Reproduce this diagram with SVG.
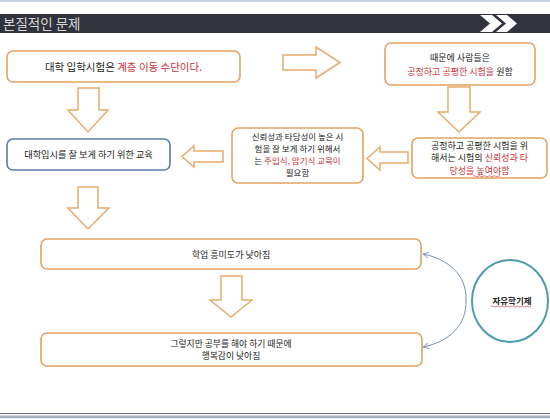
<svg xmlns="http://www.w3.org/2000/svg" width="550" height="419" viewBox="0 0 550 419">
<defs>
<style>
.t{font-family:"Noto Sans CJK KR","Noto Sans",sans-serif;fill:#222;text-anchor:middle}
.r{fill:#c8323a}
.box{fill:#fff;stroke:#e3a262;stroke-width:1.6}
.bbox{fill:#fff;stroke:#5d7ca6;stroke-width:1.6}
.arr{fill:#fff;stroke:#e8ac6c;stroke-width:1.5;stroke-linejoin:miter}
.sq{fill:none;stroke:#d04040;stroke-width:0.7}
.cv{fill:none;stroke:#7a8fb8;stroke-width:1}
</style>
<marker id="va" viewBox="0 0 10 10" refX="9" refY="5" markerWidth="7" markerHeight="7" orient="auto" markerUnits="userSpaceOnUse">
<path d="M1,1 L9,5 L1,9" fill="none" stroke="#7a8fb8" stroke-width="1.2"/>
</marker>
</defs>
<rect width="550" height="419" fill="#fff"/>
<rect x="0" y="0" width="550" height="2" fill="#c5d2e2"/>
<g id="header">
<rect x="0" y="14" width="550" height="19" fill="#30333c"/>
<polygon points="480,15 492,15 502,23.5 492,32 480,32 490,23.5" fill="#fff"/>
<polygon points="496,15 507,15 517,23.5 507,32 496,32 506,23.5" fill="#fff"/>
<text x="3" y="29" style="font-family:'Noto Sans CJK KR','Noto Sans',sans-serif;font-size:13.5px;fill:#d6d6d6">본질적인 문제</text>
</g>
<g id="node1">
<rect class="box" x="7" y="51" width="233" height="31" rx="6"/>
<text class="t" x="123.5" y="70.5" style="font-size:10.5px">대학 입학시험은 <tspan class="r">계층 이동 수단이다.</tspan></text>
</g>
<g id="node2">
<rect class="box" x="385" y="43" width="150" height="42" rx="6"/>
<text class="t" x="460" y="61" style="font-size:9px">때문에 사람들은</text>
<text class="t" x="460" y="75" style="font-size:9px"><tspan class="r">공정하고 공평한 시험을</tspan> 원함</text>
</g>
<g id="node3">
<rect class="box" x="412" y="138" width="135" height="40" rx="6"/>
<text class="t" x="479.5" y="148.5" style="font-size:9px">공정하고 공평한 시험을 위</text>
<text class="t" x="479.5" y="161.3" style="font-size:9px">해서는 시험의 <tspan class="r">신뢰성과 타</tspan></text>
<text class="t" x="479.5" y="174.1" style="font-size:9px"><tspan class="r">당성을 높여야함</tspan></text>
<path class="sq" d="M473,176.3 q1.25,-1.2 2.5,0 t2.5,0 t2.5,0 t2.5,0 t2.5,0 t2.5,0 t2.5,0 t2.5,0 t2.5,0 t2.5,0 t2.5,0"/>
</g>
<g id="node4">
<rect class="box" x="232" y="128" width="131" height="55" rx="6"/>
<text class="t" x="297.5" y="139.5" style="font-size:8.5px">신뢰성과 타당성이 높은 시</text>
<text class="t" x="297.5" y="151.8" style="font-size:8.5px">험을 잘 보게 하기 위해서</text>
<text class="t" x="297.5" y="164.1" style="font-size:8.5px">는 <tspan class="r">주입식, 암기식 교육이</tspan></text>
<text class="t" x="297.5" y="176.4" style="font-size:8.5px">필요함</text>
</g>
<g id="node5">
<rect class="bbox" x="7" y="139" width="163" height="31" rx="6"/>
<text class="t" x="88.5" y="158" style="font-size:9.2px">대학입시를 잘 보게 하기 위한 교육</text>
</g>
<g id="node6">
<rect class="box" x="41" y="239" width="380" height="30" rx="6"/>
<text class="t" x="231" y="257.5" style="font-size:9px">학업 흥미도가 낮아짐</text>
</g>
<g id="node7">
<rect class="box" x="41" y="333" width="381" height="33" rx="6"/>
<text class="t" x="231" y="346.5" style="font-size:8.8px">그렇지만 공부를 해야 하기 때문에</text>
<text class="t" x="231" y="359.3" style="font-size:8.8px">행복감이 낮아짐</text>
</g>
<g id="node8">
<ellipse cx="510" cy="301" rx="38" ry="41" fill="#fff" stroke="#4f9cad" stroke-width="2"/>
<text class="t" x="512" y="303.5" style="font-size:8.5px;font-weight:bold">자유학기제</text>
<path class="sq" d="M491,306.5 q1.25,-1.2 2.5,0 t2.5,0 t2.5,0 t2.5,0 t2.5,0 t2.5,0 t2.5,0 t2.5,0 t2.5,0 t2.5,0 t2.5,0 t2.5,0 t2.5,0 t2.5,0 t2.5,0 t2.5,0"/>
</g>
<g id="connectors">
<polygon class="arr" points="78,88 99,88 99,110 108,110 88,132 68,110 78,110"/>
<polygon class="arr" points="283,55 316,55 316,47 340,62.5 316,78 316,70 283,70"/>
<polygon class="arr" points="448,87 470,87 470,112 480,112 459,132 438,112 448,112"/>
<polygon class="arr" points="408,152 408,163 380,163 380,170 367,158.5 380,147 380,152"/>
<polygon class="arr" points="223,151 223,162 194,162 194,167 182,156.5 194,146 194,151"/>
<polygon class="arr" points="78,187 98,187 98,208 109,208 88,229 68,208 78,208"/>
<polygon class="arr" points="221,276 242,276 242,300 252,300 231,317 210,300 221,300"/>
<path class="cv" d="M466,300 C467,275 448,259 423,254" marker-end="url(#va)"/>
<path class="cv" d="M466,300 C467,326 448,342 423,347" marker-end="url(#va)"/>
</g>
<g id="footer">
<rect x="0" y="413" width="550" height="1" fill="#666a70"/>
<rect x="0" y="415.5" width="550" height="2.5" fill="#a4aebd"/>
<rect x="0" y="418" width="550" height="1" fill="#dde6f2"/>
</g>
</svg>
